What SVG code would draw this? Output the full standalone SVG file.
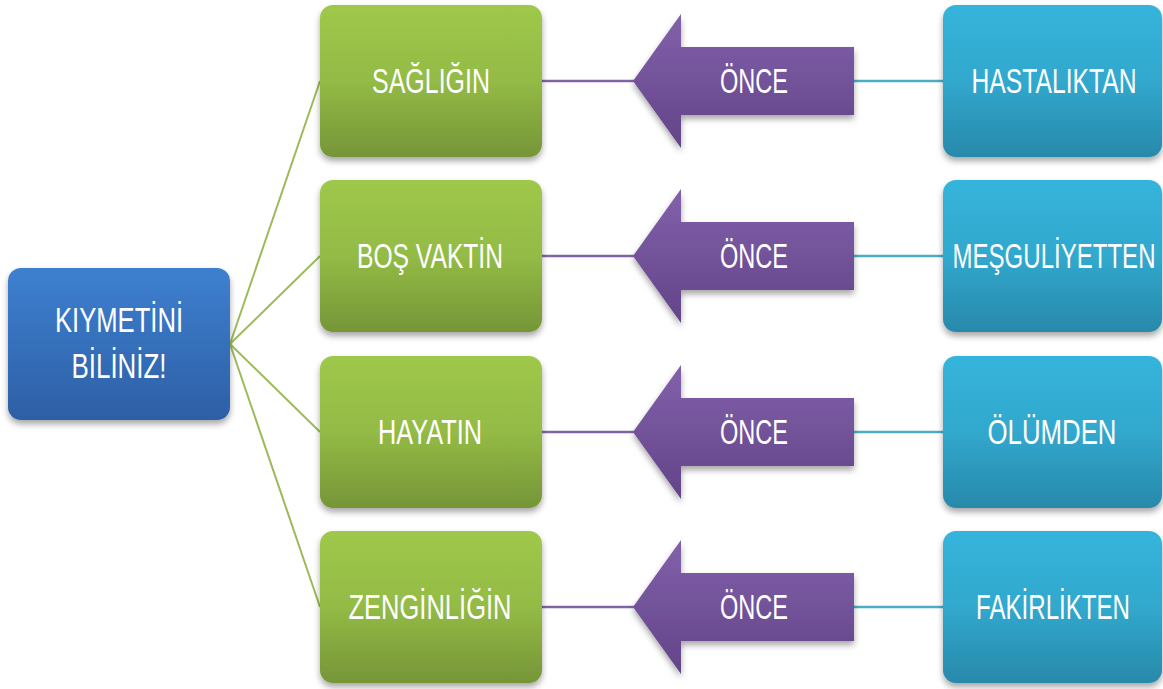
<svg xmlns="http://www.w3.org/2000/svg" width="1163" height="689" viewBox="0 0 1163 689">
<defs>
<linearGradient id="gBlue" x1="0" y1="0" x2="0" y2="1"><stop offset="0" stop-color="#3e80d0"/><stop offset="1" stop-color="#2d5fa5"/></linearGradient>
<linearGradient id="gGreen" x1="0" y1="0" x2="0" y2="1"><stop offset="0" stop-color="#9fc84b"/><stop offset="0.5" stop-color="#93bb45"/><stop offset="1" stop-color="#769538"/></linearGradient>
<linearGradient id="gPurple" x1="0" y1="0" x2="0" y2="1"><stop offset="0" stop-color="#8261ab"/><stop offset="1" stop-color="#624487"/></linearGradient>
<linearGradient id="gCyan" x1="0" y1="0" x2="0" y2="1"><stop offset="0" stop-color="#36b4db"/><stop offset="0.5" stop-color="#31a8cd"/><stop offset="1" stop-color="#2889aa"/></linearGradient>
<filter id="sh" x="-10%" y="-10%" width="120%" height="125%"><feDropShadow dx="0" dy="4" stdDeviation="3" flood-color="#000" flood-opacity="0.35"/></filter>
</defs>
<style>
text{font-family:"Liberation Sans Narrow","Liberation Sans",Arial,sans-serif;font-size:35px;fill:#ffffff;text-anchor:middle}
.lg{stroke:#9bbb59;stroke-width:2;fill:none}
.lp{stroke:#8064a2;stroke-width:2.5;fill:none}
.lc{stroke:#4bacc6;stroke-width:2.5;fill:none}
.nb{fill:url(#gBlue);filter:url(#sh)}
.ng{fill:url(#gGreen);filter:url(#sh)}
.nc{fill:url(#gCyan);filter:url(#sh)}
.ar{fill:url(#gPurple);filter:url(#sh)}
</style>
<rect width="1163" height="689" fill="#ffffff"/>
<g id="connectors">
<line class="lg" x1="230" y1="344" x2="320" y2="81"/>
<line class="lg" x1="230" y1="344" x2="320" y2="256"/>
<line class="lg" x1="230" y1="344" x2="320" y2="432"/>
<line class="lg" x1="230" y1="344" x2="320" y2="607"/>
<line class="lp" x1="542" y1="81" x2="634" y2="81"/>
<line class="lp" x1="542" y1="256" x2="634" y2="256"/>
<line class="lp" x1="542" y1="432" x2="634" y2="432"/>
<line class="lp" x1="542" y1="607" x2="634" y2="607"/>
<line class="lc" x1="854" y1="81" x2="943" y2="81"/>
<line class="lc" x1="854" y1="256" x2="943" y2="256"/>
<line class="lc" x1="854" y1="432" x2="943" y2="432"/>
<line class="lc" x1="854" y1="607" x2="943" y2="607"/>
</g>
<g id="root">
<rect class="nb" x="8" y="268" width="222" height="152" rx="13"/>
<text x="119" y="332" textLength="128" lengthAdjust="spacingAndGlyphs">KIYMETİNİ</text>
<text x="119" y="378" textLength="95" lengthAdjust="spacingAndGlyphs">BİLİNİZ!</text>
</g>
<g id="g1"><rect class="ng" x="320" y="5" width="222" height="152" rx="13"/><text x="431" y="93" textLength="118" lengthAdjust="spacingAndGlyphs">SAĞLIĞIN</text></g>
<g id="g2"><rect class="ng" x="320" y="180" width="222" height="152" rx="13"/><text x="430" y="268" textLength="146" lengthAdjust="spacingAndGlyphs">BOŞ VAKTİN</text></g>
<g id="g3"><rect class="ng" x="320" y="356" width="222" height="152" rx="13"/><text x="430" y="444" textLength="104" lengthAdjust="spacingAndGlyphs">HAYATIN</text></g>
<g id="g4"><rect class="ng" x="320" y="531" width="222" height="152" rx="13"/><text x="430" y="619" textLength="163" lengthAdjust="spacingAndGlyphs">ZENGİNLİĞİN</text></g>
<g id="a1"><polygon class="ar" points="633,81 681,14 681,47 854,47 854,115 681,115 681,148"/><text x="754" y="93" textLength="68" lengthAdjust="spacingAndGlyphs">ÖNCE</text></g>
<g id="a2"><polygon class="ar" points="633,256 681,189 681,222 854,222 854,290 681,290 681,323"/><text x="754" y="268" textLength="68" lengthAdjust="spacingAndGlyphs">ÖNCE</text></g>
<g id="a3"><polygon class="ar" points="633,432 681,365 681,398 854,398 854,466 681,466 681,499"/><text x="754" y="444" textLength="68" lengthAdjust="spacingAndGlyphs">ÖNCE</text></g>
<g id="a4"><polygon class="ar" points="633,607 681,540 681,573 854,573 854,641 681,641 681,674"/><text x="754" y="619" textLength="68" lengthAdjust="spacingAndGlyphs">ÖNCE</text></g>
<g id="b1"><rect class="nc" x="943" y="5" width="219" height="152" rx="13"/><text x="1054" y="93" textLength="165" lengthAdjust="spacingAndGlyphs">HASTALIKTAN</text></g>
<g id="b2"><rect class="nc" x="943" y="180" width="219" height="152" rx="13"/><text x="1054" y="268" textLength="203" lengthAdjust="spacingAndGlyphs">MEŞGULİYETTEN</text></g>
<g id="b3"><rect class="nc" x="943" y="356" width="219" height="152" rx="13"/><text x="1052" y="444" textLength="129" lengthAdjust="spacingAndGlyphs">ÖLÜMDEN</text></g>
<g id="b4"><rect class="nc" x="943" y="531" width="219" height="152" rx="13"/><text x="1053" y="619" textLength="154" lengthAdjust="spacingAndGlyphs">FAKİRLİKTEN</text></g>
</svg>
